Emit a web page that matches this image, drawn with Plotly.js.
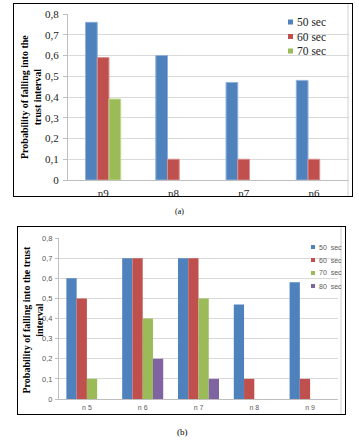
<!DOCTYPE html>
<html><head><meta charset="utf-8">
<script src="https://cdn.plot.ly/plotly-3.0.1.min.js"></script>
<style>
html,body{margin:0;padding:0;background:#fff;width:359px;height:442px;overflow:hidden;position:relative}
#a,#b{position:absolute;left:0;width:359px}
#a{top:0;height:220px}
#b{top:220px;height:222px}
.frame{position:absolute;box-sizing:border-box;border:1.5px solid #000;pointer-events:none}
</style></head><body>
<div id="a"></div><div id="b"></div>
<div class="frame" style="left:13px;top:3px;width:340px;height:194px"></div>
<div class="frame" style="left:17px;top:226px;width:329px;height:189px"></div>
<script>
// ---- data, chart (a)
const catsA = ['n9', 'n8', 'n7', 'n6'];
const namesA = ['50 sec', '60 sec', '70 sec'];
const s50A = [0.76, 0.60, 0.47, 0.48];
const s60A = [0.59, 0.10, 0.10, 0.10];
const s70A = [0.39, null, null, null];
// ---- data, chart (b)
const catsB = ['n 5', 'n 6', 'n 7', 'n 8', 'n 9'];
const namesB = ['50 sec', '60 sec', '70 sec', '80 sec'];
const s50B = [0.60, 0.70, 0.70, 0.47, 0.58];
const s60B = [0.50, 0.70, 0.70, 0.10, 0.10];
const s70B = [0.10, 0.40, 0.50, null, null];
const s80B = [null, 0.20, 0.10, null, null];
// ---- ticks
const yTickVals = [0, 0.1, 0.2, 0.3, 0.4, 0.5, 0.6, 0.7, 0.8];
const yTickText = ['0', '0,1', '0,2', '0,3', '0,4', '0,5', '0,6', '0,7', '0,8'];
const yTitleA = 'Probability of falling into the<br>trust interval';
const yTitleB = 'Probability of falling into the trust<br>interval';

const colors = ['#4F81BD', '#C0504D', '#9BBB59', '#8064A2'];
const edges = ['#8EB0DA', '#D8908E', '#C0D690', '#A793C2'];
const SERIF = 'Liberation Serif, Times New Roman, serif';
const SANS = 'Liberation Sans, Arial, sans-serif';

// ===== chart (a)
const W = 359;
const mA = {l: 68, r: 10, t: 14, b: 40}, hA = 220;
const pwA = W - mA.l - mA.r, phA = hA - mA.t - mA.b;
const pxA = x => (x - mA.l) / pwA;
const pyA = y => (hA - mA.b - y) / phA;

const seriesA = [s50A, s60A, s70A];
const tracesA = seriesA.map((v, i) => ({
  type: 'bar', x: catsA, y: v, name: namesA[i], showlegend: false,
  marker: {color: colors[i], line: {color: edges[i], width: 1}},
  hoverinfo: 'skip'
}));

const shapesA = [], annA = [];
namesA.forEach((n, i) => {
  const cy = 22 + 14.5 * i;
  shapesA.push({type: 'rect', xref: 'paper', yref: 'paper',
    x0: pxA(288), x1: pxA(293), y0: pyA(cy + 2.5), y1: pyA(cy - 2.5),
    fillcolor: colors[i], line: {width: 0}});
  annA.push({xref: 'paper', yref: 'paper', x: pxA(295), y: pyA(cy), xanchor: 'left', yanchor: 'middle',
    text: n, showarrow: false, font: {family: SERIF, size: 11.5, color: '#222'}});
});
shapesA.push({type: 'line', xref: 'paper', yref: 'paper', x0: pxA(348), x1: pxA(348), y0: pyA(196), y1: pyA(4),
  line: {color: '#D0D0D0', width: 1}});
annA.push({xref: 'paper', yref: 'paper', x: pxA(31), y: 0.5, textangle: -90, xanchor: 'center', yanchor: 'middle',
  text: yTitleA, showarrow: false, font: {family: SERIF, size: 10, color: '#000', weight: 'bold'}});
annA.push({xref: 'paper', yref: 'paper', x: pxA(179), y: pyA(211), xanchor: 'center', yanchor: 'middle',
  text: '(a)', showarrow: false, font: {family: SERIF, size: 8, color: '#000'}});

Plotly.newPlot('a', tracesA, {
  width: W, height: hA, margin: mA, paper_bgcolor: 'rgba(0,0,0,0)', plot_bgcolor: 'rgba(0,0,0,0)',
  barmode: 'group', bargap: 0.5, bargroupgap: 0, showlegend: false,
  xaxis: {type: 'category', showline: true, linecolor: '#BFBFBF', linewidth: 1, ticks: '', showgrid: false,
    tickfont: {family: SERIF, size: 11, color: '#222'}, ticklabelstandoff: 3, fixedrange: true},
  yaxis: {range: [0, 0.8], tickvals: yTickVals, ticktext: yTickText, showgrid: true, gridcolor: '#D9D9D9',
    showline: true, linecolor: '#BFBFBF', ticks: 'outside', ticklen: 4, tickcolor: '#BFBFBF', zeroline: false,
    tickfont: {family: SERIF, size: 11, color: '#222'}, ticklabelstandoff: 2, fixedrange: true},
  shapes: shapesA, annotations: annA
}, {staticPlot: true, displayModeBar: false});

// ===== chart (b)
const mB = {l: 59, r: 21, t: 18, b: 43}, hB = 222;
const pwB = W - mB.l - mB.r, phB = hB - mB.t - mB.b;
const pxB = x => (x - mB.l) / pwB;
const pyB = y => (hB - mB.b - (y - 220)) / phB; // y in page pixels

const seriesB = [s50B, s60B, s70B, s80B];
const tracesB = seriesB.map((v, i) => ({
  type: 'bar', x: catsB, y: v, name: namesB[i], showlegend: false,
  marker: {color: colors[i]}, hoverinfo: 'skip'
}));

const shapesB = [], annB = [];
namesB.forEach((n, i) => {
  const cy = 247 + 13 * i;
  shapesB.push({type: 'rect', xref: 'paper', yref: 'paper',
    x0: pxB(311), x1: pxB(315), y0: pyB(cy + 2), y1: pyB(cy - 2),
    fillcolor: colors[i], line: {width: 0}});
  annB.push({xref: 'paper', yref: 'paper', x: pxB(317), y: pyB(cy), xanchor: 'left', yanchor: 'middle',
    text: n.replace(' ', '\u00a0\u00a0'), showarrow: false, font: {family: SANS, size: 7, color: '#595959'}});
});
shapesB.push({type: 'line', xref: 'paper', yref: 'paper', x0: pxB(341), x1: pxB(341), y0: pyB(414), y1: pyB(227),
  line: {color: '#D0D0D0', width: 1}});
annB.push({xref: 'paper', yref: 'paper', x: pxB(32.5), y: pyB(320), textangle: -90, xanchor: 'center', yanchor: 'middle',
  text: yTitleB, showarrow: false, font: {family: SERIF, size: 10, color: '#000', weight: 'bold'}});
annB.push({xref: 'paper', yref: 'paper', x: pxB(182), y: pyB(432), xanchor: 'center', yanchor: 'middle',
  text: '(b)', showarrow: false, font: {family: SERIF, size: 9, color: '#000'}});

Plotly.newPlot('b', tracesB, {
  width: W, height: hB, margin: mB, paper_bgcolor: 'rgba(0,0,0,0)', plot_bgcolor: 'rgba(0,0,0,0)',
  barmode: 'group', bargap: 0.265, bargroupgap: 0, showlegend: false,
  xaxis: {type: 'category', showline: true, linecolor: '#BFBFBF', linewidth: 1, ticks: '', showgrid: false,
    tickfont: {family: SANS, size: 7, color: '#595959'}, ticklabelstandoff: 2, fixedrange: true},
  yaxis: {range: [0, 0.8], tickvals: yTickVals, ticktext: yTickText, showgrid: true, gridcolor: '#D9D9D9',
    showline: true, linecolor: '#BFBFBF', ticks: 'outside', ticklen: 3, tickcolor: '#BFBFBF', zeroline: false,
    tickfont: {family: SANS, size: 7.5, color: '#595959'}, ticklabelstandoff: 1, fixedrange: true},
  shapes: shapesB, annotations: annB
}, {staticPlot: true, displayModeBar: false});
</script>
</body></html>
